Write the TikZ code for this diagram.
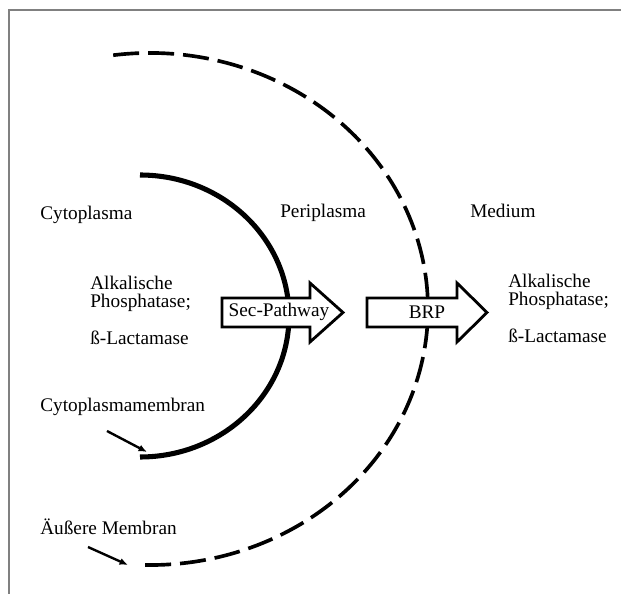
\documentclass[tikz,border=0pt]{standalone}
\usepackage{fontspec}
\setmainfont{Liberation Serif}
\usetikzlibrary{arrows.meta}

\begin{document}
\begin{tikzpicture}[x=0.025cm,y=0.025cm,
    txt/.style={font=\fontsize{13.7}{16}\selectfont,inner sep=0pt,anchor=base west},
    blockarrow/.style={draw=black,fill=white,line width=2pt,line join=miter},
    membrane/.style={line width=2.6pt,dash pattern=on 0.65cm off 0.225cm},
    pointer/.style={line width=1.7pt,-{Latex[length=6pt,width=5pt]}}]
    \useasboundingbox (0,0) rectangle (621,594);
    % frame
    \draw[line width=1pt,color=black!50] (9,0) -- (9,584) -- (621,584);
    % membranes
    \draw[line width=3.6pt] (140,419) arc[start angle=90,end angle=-90,x radius=149,y radius=141];
    \draw[membrane] (113.2,538.8) arc[start angle=97.6,end angle=0,x radius=278,y radius=256];
    \draw[membrane] (145.1,29) arc[start angle=-91,end angle=0,x radius=278,y radius=256];
    % region labels
    \node[txt] (cyto) at (40,374) {Cytoplasma};
    \node[txt] (peri) at (280,376) {Periplasma};
    \node[txt] (med) at (470,376) {Medium};
    % enzymes inside
    \node[txt] (alk1) at (90,304) {Alkalische};
    \node[txt] (pho1) at (90,286) {Phosphatase;};
    \node[txt] (lac1) at (90,249) {ß-Lactamase};
    % enzymes outside
    \node[txt] (alk2) at (508,306) {Alkalische};
    \node[txt] (pho2) at (508,288) {Phosphatase;};
    \node[txt] (lac2) at (508,251) {ß-Lactamase};
    % transport arrows
    \draw[blockarrow] (222,267) -- (310,267) -- (310,252) -- (343,281.5) -- (310,311) -- (310,296) -- (222,296) -- cycle;
    \node[txt,anchor=center] (sec) at (279,282) {Sec-Pathway};
    \draw[blockarrow] (367,267) -- (457,267) -- (457,252) -- (487,281.5) -- (457,311) -- (457,296) -- (367,296) -- cycle;
    \node[txt,anchor=center] (brp) at (427,282) {BRP};
    % membrane labels
    \node[txt] (cmem) at (40,182) {Cytoplasmamembran};
    \node[txt] (omem) at (40,59) {Äußere Membran};
    \coordinate (cmemA) at (107,163);
    \coordinate (cmemB) at (147,142);
    \coordinate (omemA) at (88,47);
    \coordinate (omemB) at (128,29);
    \draw[pointer] (cmemA) -- (cmemB);
    \draw[pointer] (omemA) -- (omemB);
\end{tikzpicture}
\end{document}
